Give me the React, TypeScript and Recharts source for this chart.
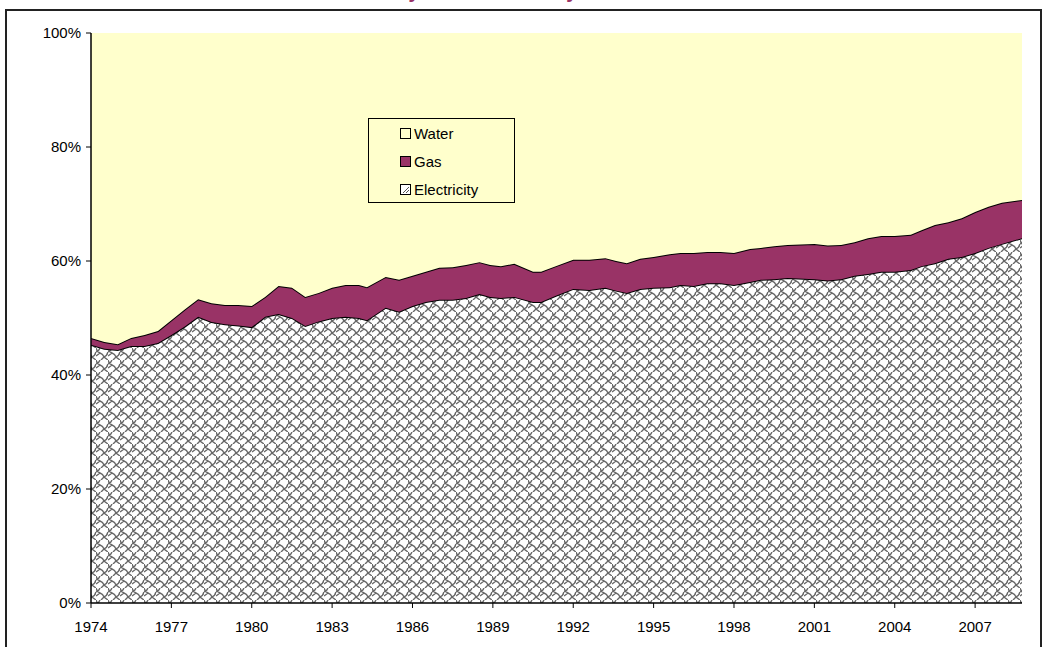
import React from 'react';
import {
  AreaChart,
  Area,
  XAxis,
  YAxis,
} from 'recharts';

// period (fractional year) of each reading
const periods = [
  1974.0, 1974.5, 1975.0, 1975.5, 1976.0, 1976.5, 1977.0, 1977.5, 1978.0, 1978.5,
  1979.0, 1979.5, 1980.0, 1980.5, 1981.0, 1981.5, 1982.0, 1982.5, 1983.0, 1983.5,
  1984.0, 1984.3, 1985.0, 1985.5, 1986.0, 1986.5, 1987.0, 1987.5, 1988.0, 1988.5,
  1988.9, 1989.3, 1989.8, 1990.5, 1990.8, 1991.35, 1992.0, 1992.6, 1993.2, 1993.6,
  1994.0, 1994.5, 1995.0, 1995.6, 1996.0, 1996.5, 1997.0, 1997.5, 1998.0, 1998.6,
  1999.0, 1999.5, 2000.0, 2001.0, 2001.5, 2002.0, 2002.5, 2003.0, 2003.5, 2004.0,
  2004.6, 2005.0, 2005.5, 2006.0, 2006.5, 2007.0, 2007.5, 2008.0, 2008.75,
];

// shares in percent
const electricity = [
  45.3, 44.6, 44.4, 45.1, 45.1, 45.6, 47.0, 48.5, 50.2, 49.3,
  48.9, 48.7, 48.4, 50.2, 50.7, 50.0, 48.6, 49.4, 50.0, 50.2,
  50.0, 49.6, 51.8, 51.1, 52.1, 52.8, 53.2, 53.2, 53.5, 54.2,
  53.7, 53.5, 53.7, 52.8, 52.8, 53.9, 55.1, 54.9, 55.3, 54.8,
  54.4, 55.1, 55.3, 55.4, 55.8, 55.6, 56.1, 56.1, 55.8, 56.3,
  56.7, 56.8, 57.0, 56.8, 56.6, 56.8, 57.4, 57.7, 58.1, 58.1,
  58.4, 59.1, 59.6, 60.4, 60.7, 61.4, 62.3, 63.0, 64.0,
];

const gas = [
  1.2, 1.2, 1.0, 1.4, 1.9, 2.1, 2.6, 3.0, 3.1, 3.3,
  3.4, 3.6, 3.7, 3.5, 4.9, 5.3, 5.1, 5.0, 5.3, 5.6,
  5.8, 5.8, 5.4, 5.6, 5.3, 5.3, 5.6, 5.7, 5.8, 5.6,
  5.6, 5.6, 5.8, 5.3, 5.3, 5.2, 5.1, 5.3, 5.2, 5.2,
  5.2, 5.3, 5.4, 5.8, 5.6, 5.8, 5.5, 5.5, 5.6, 5.8,
  5.6, 5.8, 5.8, 6.2, 6.1, 6.0, 5.9, 6.3, 6.3, 6.3,
  6.2, 6.3, 6.7, 6.4, 6.8, 7.2, 7.2, 7.2, 6.7,
];

const water = [
  53.5, 54.2, 54.6, 53.5, 53.0, 52.3, 50.4, 48.5, 46.7, 47.4,
  47.7, 47.7, 47.9, 46.3, 44.4, 44.7, 46.3, 45.6, 44.7, 44.2,
  44.2, 44.6, 42.8, 43.3, 42.6, 41.9, 41.2, 41.1, 40.7, 40.2,
  40.7, 40.9, 40.5, 41.9, 41.9, 40.9, 39.8, 39.8, 39.5, 40.0,
  40.4, 39.6, 39.3, 38.8, 38.6, 38.6, 38.4, 38.4, 38.6, 37.9,
  37.7, 37.4, 37.2, 37.0, 37.3, 37.2, 36.7, 36.0, 35.6, 35.6,
  35.4, 34.6, 33.7, 33.2, 32.5, 31.4, 30.5, 29.8, 29.3,
];

const yearTicks = [1974, 1977, 1980, 1983, 1986, 1989, 1992, 1995, 1998, 2001, 2004, 2007];
const pctTicks = [0, 20, 40, 60, 80, 100];

const COLORS = {
  Water: '#FFFFCC',
  Gas: '#993366',
};

const FONT = '"Liberation Sans", Arial, sans-serif';

const data = periods.map((p, i) => ({
  period: p,
  Electricity: electricity[i],
  Gas: gas[i],
  Water: water[i],
}));

// Excel-style "shingle" hatch used for electricity
const ShingleDef = () => (
  <pattern id="shingle" patternUnits="userSpaceOnUse" width={12} height={12}>
    <rect width={12} height={12} fill="#fff" />
    <path
      d="M0 0 Q1 4 4 5 Q7 6 8 9 L12 12 M8 9 L5 12 M8 9 Q11 8 12 4 M0 4 Q3 3 4 0 M4 5 L0 8"
      fill="none"
      stroke="#666"
      strokeWidth={1.4}
    />
  </pattern>
);

const LegendBox = () => {
  const items = [
    { name: 'Water', fill: COLORS.Water },
    { name: 'Gas', fill: COLORS.Gas },
    { name: 'Electricity', fill: '#fff' },
  ];
  return (
    <div
      style={{
        position: 'absolute',
        left: 368,
        top: 118,
        width: 147,
        height: 85,
        border: '1px solid #000',
        fontFamily: FONT,
        fontSize: 15,
        paddingTop: 0,
        boxSizing: 'border-box',
      }}
    >
      {items.map(it => (
        <div key={it.name} style={{ display: 'flex', alignItems: 'center', height: 28, paddingLeft: 31 }}>
          <svg width={11} height={11} style={{ marginRight: 3 }}>
            <rect x={0.5} y={0.5} width={10} height={10} fill={it.fill} stroke="#000" />
            {it.name === 'Electricity' && <path d="M3 9 L9 3 M6 9 L9 6" stroke="#555" />}
          </svg>
          <span>{it.name}</span>
        </div>
      ))}
    </div>
  );
};

export default function App() {
  return (
    <div style={{ position: 'absolute', left: 0, top: 0, width: 1047, height: 647, background: '#fff', overflow: 'hidden' }}>
      {/* outer chart frame, bottom is cut off in the original */}
      <div
        style={{
          position: 'absolute',
          left: 5,
          top: 9,
          width: 1033,
          height: 660,
          borderTop: '2px solid #222',
          borderLeft: '2px solid #222',
          borderRight: '2px solid #222',
        }}
      />
      {/* title sits above the visible area, only descenders show */}
      <div
        style={{
          position: 'absolute',
          left: 324,
          top: -20,
          fontFamily: FONT,
          fontWeight: 'bold',
          fontSize: 20,
          color: '#993366',
          whiteSpace: 'nowrap',
        }}
      >
        Electricity Shares of Utility Bills
      </div>
      <div style={{ position: 'absolute', left: 0, top: 0 }}>
        <AreaChart width={1047} height={647} data={data} margin={{ top: 33, right: 25, bottom: 0, left: 0 }}>
          <defs>
            <ShingleDef />
          </defs>
          <XAxis
            dataKey="period"
            type="number"
            domain={[1974, 2008.75]}
            ticks={yearTicks}
            allowDataOverflow
            interval={0}
            height={44}
            tickSize={5}
            tickMargin={13}
            axisLine={{ stroke: '#000', strokeWidth: 1.5 }}
            tickLine={{ stroke: '#000' }}
            tick={{ fill: '#000', fontSize: 15, fontFamily: FONT }}
          />
          <XAxis xAxisId="top" orientation="top" dataKey="period" type="number" domain={[1974, 2008.75]} height={0} tick={false} tickLine={false} axisLine={{ stroke: '#000', strokeWidth: 1.5 }} />
          <YAxis
            type="number"
            domain={[0, 100]}
            ticks={pctTicks}
            width={91}
            tickSize={5}
            tickMargin={5}
            tickFormatter={v => `${v}%`}
            axisLine={{ stroke: '#000', strokeWidth: 1.5 }}
            tickLine={{ stroke: '#000' }}
            tick={{ fill: '#000', fontSize: 15, fontFamily: FONT }}
          />
          <YAxis yAxisId="right" orientation="right" width={0} domain={[0, 100]} tick={false} tickLine={false} axisLine={{ stroke: '#000', strokeWidth: 1.5 }} />
          <Area
            type="linear"
            dataKey="Electricity"
            stackId="share"
            fill="url(#shingle)"
            fillOpacity={1}
            stroke="#000"
            strokeWidth={2}
            isAnimationActive={false}
          />
          <Area
            type="linear"
            dataKey="Gas"
            stackId="share"
            fill={COLORS.Gas}
            fillOpacity={1}
            stroke="#000"
            strokeWidth={2}
            isAnimationActive={false}
          />
          <Area
            type="linear"
            dataKey="Water"
            stackId="share"
            fill={COLORS.Water}
            fillOpacity={1}
            stroke="none"
            isAnimationActive={false}
          />
        </AreaChart>
      </div>
      <LegendBox />
    </div>
  );
}
